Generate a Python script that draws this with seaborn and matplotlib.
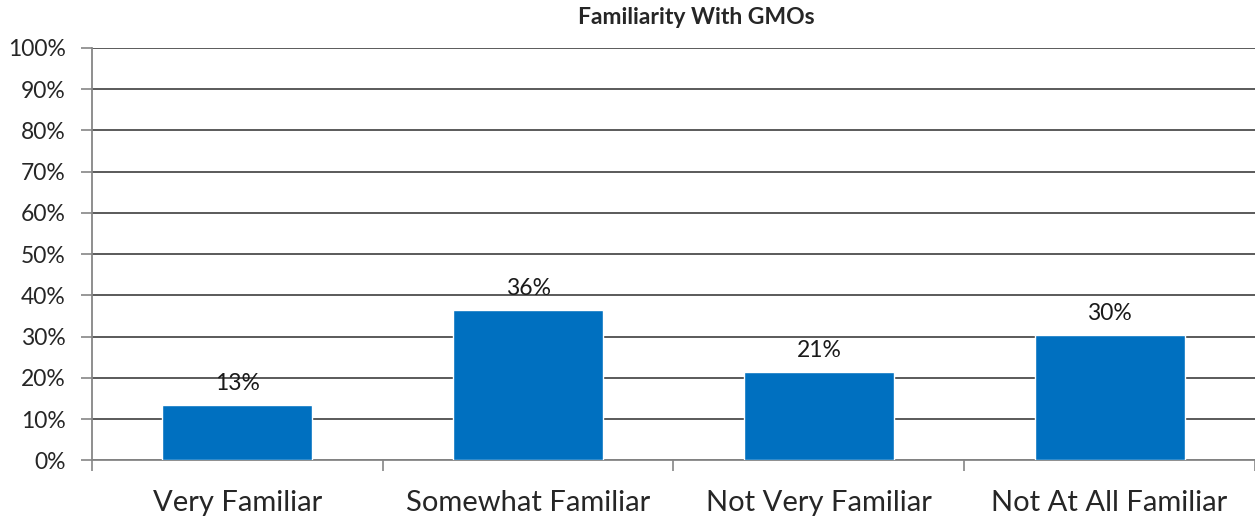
import matplotlib
matplotlib.use('Agg')
import matplotlib.pyplot as plt
import seaborn as sns
import pandas as pd
from matplotlib.ticker import PercentFormatter

# data
categories = ['Very Familiar', 'Somewhat Familiar', 'Not Very Familiar', 'Not At All Familiar']
values = [13.5, 36.5, 21.5, 30.5]
labels = ['13%', '36%', '21%', '30%']

df = pd.DataFrame({'category': categories, 'value': values})

sns.set_theme(style='white')
plt.rcParams['font.family'] = ['Lato', 'DejaVu Sans']

fig = plt.figure(figsize=(12.55, 5.19), dpi=100)
ax = fig.add_axes([0.0733, 0.113, 0.9267, 0.795])

sns.barplot(data=df, x='category', y='value', color='#0070C0', saturation=1,
            width=0.516, ax=ax, zorder=3)

ax.set_ylim(0, 100)
ax.set_xlim(-0.5, 3.5)
ax.set_yticks(range(0, 101, 10))
ax.yaxis.set_major_formatter(PercentFormatter(decimals=0))
ax.grid(axis='y', color='#2e2e2e', linewidth=1.1, zorder=0)
ax.set_axisbelow(True)

# category boundary ticks
ax.set_xticks([-0.5, 0.5, 1.5, 2.5, 3.5], minor=True)
ax.tick_params(axis='x', which='major', length=0, pad=21, labelsize=21)
ax.tick_params(axis='x', which='minor', length=8, width=1.2, color='#868686', bottom=True)
ax.tick_params(axis='y', which='major', length=8, width=1.2, color='#868686', left=True,
               labelsize=16.5, pad=11)

for side in ['top', 'right']:
    ax.spines[side].set_visible(False)
for side in ['left', 'bottom']:
    ax.spines[side].set_color('#868686')
    ax.spines[side].set_linewidth(1.3)

ax.set_xlabel('')
ax.set_ylabel('')

for i, v in enumerate(values):
    ax.text(i, v + 2.5, labels[i], ha='center', va='bottom', fontsize=16.5, color='#1a1a1a')

fig.text(696 / 1255, 1 - 18 / 519, 'Familiarity With GMOs', ha='center', va='center',
         fontsize=16.5, fontweight='bold')

plt.savefig('out.png', dpi=100)
plt.close()
